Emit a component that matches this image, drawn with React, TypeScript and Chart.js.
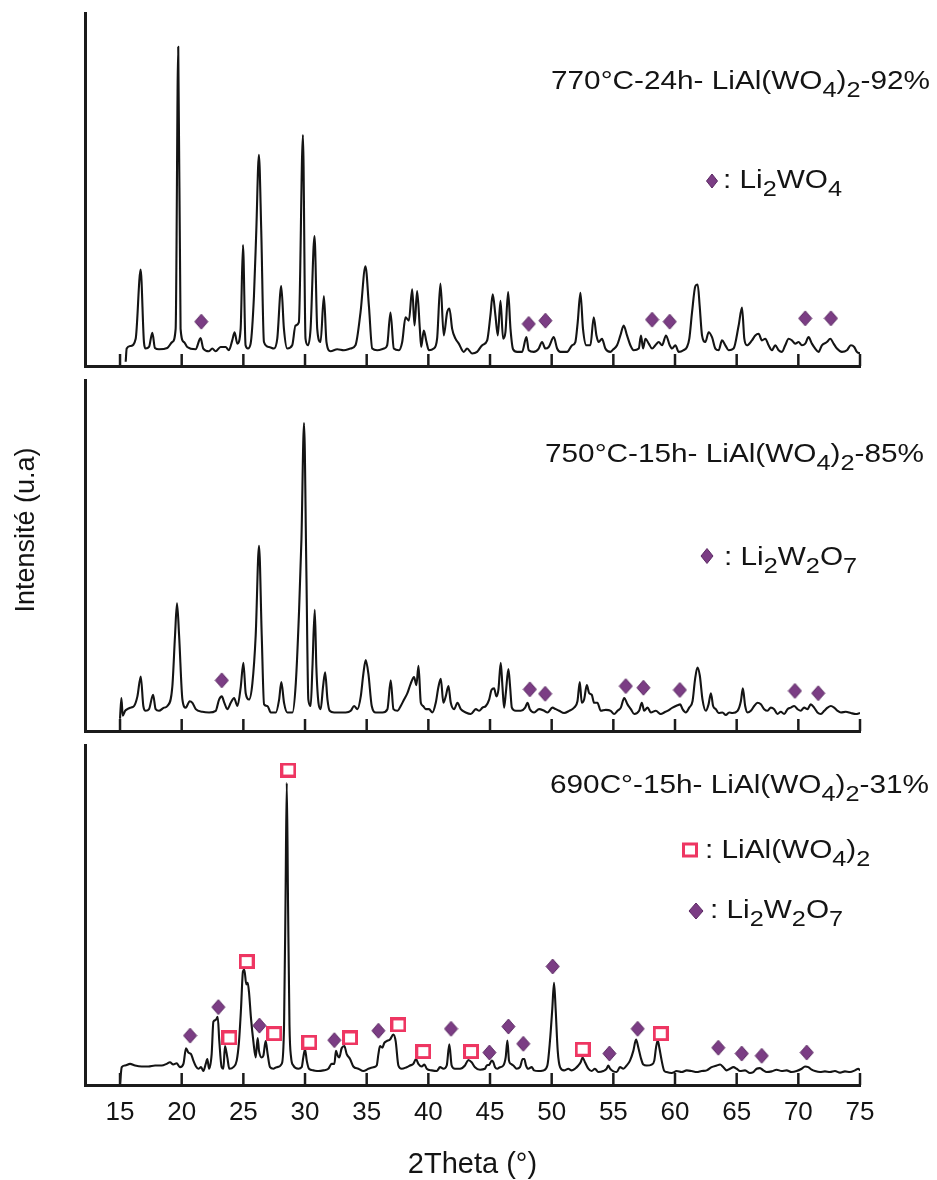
import React, { useEffect, useRef } from 'react';
import { Chart, registerables } from 'chart.js';

Chart.register(...registerables);

const FONT = '"Liberation Sans", Arial, Helvetica, sans-serif';
const INK = '#141414';
const AXIS_INK = '#1b1b1b';
const PURPLE = '#7b3d84';
const PURPLE_EDGE = '#5a2862';
const PINK = '#ee3662';

const X_TICKS = [15, 20, 25, 30, 35, 40, 45, 50, 55, 60, 65, 70, 75];
const X_MIN = 12.16;
const X_MAX = 75;

// ---- 770°C-24h pattern ----
const TOP_2THETA = [
  15.46, 15.54, 15.86, 16.27, 16.67, 16.94, 17.08, 17.35, 17.62, 17.83,
  18.16, 18.83, 19.24, 19.51, 19.72, 19.91, 20.18, 20.45, 21.13, 21.53,
  21.75, 22.21, 22.48, 22.75, 23.15, 23.56, 23.83, 24.10, 24.29, 24.51,
  24.78, 24.97, 25.18, 25.37, 25.59, 25.86, 26.05, 26.26, 26.45, 26.67,
  27.07, 27.48, 27.75, 28.07, 28.29, 28.56, 28.96, 29.23, 29.50, 29.83,
  30.04, 30.23, 30.45, 30.77, 30.99, 31.26, 31.53, 31.74, 32.07, 32.61,
  33.15, 33.69, 34.09, 34.50, 34.90, 35.18, 35.45, 35.85, 36.39, 36.66,
  36.93, 37.20, 37.61, 37.88, 38.15, 38.42, 38.69, 38.88, 39.09, 39.31,
  39.42, 39.63, 39.85, 40.04, 40.44, 40.71, 40.98, 41.25, 41.52, 41.71,
  41.93, 42.20, 42.47, 42.87, 43.14, 43.55, 43.95,
  44.36, 44.77, 45.03, 45.22, 45.44, 45.63, 45.85, 46.06, 46.25, 46.47,
  46.66, 46.87, 47.20, 47.60, 47.95, 48.14, 48.55, 48.95, 49.22, 49.49,
  49.76, 50.17, 50.44, 50.71, 51.25, 51.65, 51.92, 52.11, 52.33, 52.54,
  52.81, 53.14, 53.41, 53.63, 53.81, 54.08, 54.35, 54.76, 54.98, 55.30,
  55.57, 55.84, 56.11, 56.38, 56.65, 57.06, 57.24, 57.41, 57.60, 57.87,
  58.14, 58.41, 58.68, 58.95, 59.27, 59.57, 59.76, 60.03, 60.30, 60.70,
  60.97, 61.16, 61.38, 61.65, 61.84, 62.00, 62.19, 62.46, 62.73, 63.00,
  63.27, 63.54, 63.81, 64.08, 64.35, 64.75, 65.16, 65.43, 65.62, 65.83,
  66.24, 66.51, 66.78, 67.05, 67.32, 67.59, 67.86, 68.13, 68.40, 68.67,
  68.94, 69.21, 69.48, 69.75, 70.02, 70.29, 70.56, 70.83, 71.10, 71.37,
  71.64, 71.91, 72.32, 72.59, 72.86, 73.13, 73.53, 73.94, 74.26, 74.53,
  74.75, 75.0,
];
const TOP_INTENSITY = [
  4.3, 17.7, 20.3, 27.7, 97.7, 24.3, 17.7, 19.3, 33.7, 18.3,
  17, 18.3, 24.3, 37.7, 323.7, 37.7, 24.3, 19.3, 17, 28.3,
  17.7, 15, 17.7, 15, 19.3, 19.3, 16, 26, 34.3, 22.7,
  37.7, 122.7, 21, 17.7, 22.7, 71, 137.7, 214.3, 137.7, 24.3,
  19.3, 17.7, 27.7, 81, 37.7, 17.7, 21, 41, 44.3, 234.3,
  27.7, 21, 37.7, 131.7, 37.7, 24.3, 71, 24.3, 15, 17,
  16, 17.7, 21, 54.3, 101, 61, 17.7, 16, 17.7, 21,
  54.3, 17.7, 16, 24.3, 49.3, 46, 77.7, 41, 76, 37.7,
  19.3, 36, 24.3, 16, 17.7, 27.7, 83.7, 31, 54.3, 58.3,
  37.7, 27.7, 22.7, 14.3, 17.7, 12.7, 14.3,
  21, 26, 51, 72.7, 51, 31, 66, 27.7, 34.3, 75,
  37.7, 17, 14.3, 14.3, 29.3, 16, 14.3, 17.7, 24.3, 17.7,
  19.3, 29.3, 17.7, 14.3, 14.3, 21, 24.3, 44.3, 74.3, 37.7,
  21, 21, 49.3, 31, 24.3, 27.7, 17.7, 14.3, 16.7, 21,
  31, 41, 31, 21, 16, 17.7, 31, 17.7, 27.7, 22.7,
  17.7, 21, 24.3, 21, 31, 21, 17.7, 21, 14.3, 16,
  19.3, 27.7, 54.3, 81, 82.7, 61, 31, 24.3, 34.3, 29.3,
  17.7, 16, 26, 21, 16, 17.7, 41, 59.3, 27.7, 21,
  26, 31, 32.7, 26, 27.7, 21, 16, 21, 16, 14.3,
  21, 27.7, 26, 22.7, 24.3, 21, 22.7, 29.3, 22.7, 17.7,
  14.3, 21, 24.3, 27.7, 22.7, 17.7, 14.3, 16, 21, 19.3,
  14.3, 12.7,
];
const TOP_LI2WO4_2THETA = [21.59, 48.14, 49.49, 58.14, 59.57, 70.56, 72.64];
const TOP_LI2WO4_Y = [45, 42.7, 46, 47, 45, 48.3, 48.3];

// ---- 750°C-15h pattern ----
const MID_2THETA = [
  15.0, 15.11, 15.22, 15.41, 15.59, 15.87, 16.14, 16.41, 16.68, 16.89,
  17.08, 17.35, 17.68, 17.89, 18.16, 18.57, 18.84, 19.24, 19.46, 19.62,
  19.79, 20.06, 20.33, 20.65, 20.87, 21.14, 21.68, 22.22, 22.76, 23.03,
  23.25, 23.46, 23.70, 23.98, 24.25, 24.52, 24.79, 25.00, 25.19, 25.46,
  25.73, 26.00, 26.27, 26.49, 26.68, 26.95, 27.22, 27.63, 27.90, 28.08,
  28.30, 28.57, 28.98, 29.25, 29.52, 29.71, 29.92, 30.11, 30.27, 30.46,
  30.60, 30.79, 30.92, 31.09, 31.27, 31.46, 31.63, 31.82, 32.00, 32.36,
  32.76, 33.30, 33.71, 33.98, 34.25, 34.52, 34.73, 34.92, 35.14, 35.41,
  35.74, 36.28, 36.68, 36.95, 37.17, 37.49, 37.76, 38.03, 38.30, 38.57,
  38.84, 39.03, 39.20, 39.39, 39.57, 39.79, 40.06, 40.33, 40.60, 40.82,
  41.01, 41.22, 41.41, 41.63, 41.82, 42.09, 42.36, 42.63, 43.03, 43.44,
  43.85, 44.12,
  44.39, 44.66, 44.93, 45.12, 45.33, 45.52, 45.68, 45.87, 46.01, 46.14,
  46.28, 46.49, 46.63, 46.77, 47.09, 47.50, 47.85, 48.04, 48.23, 48.58,
  48.98, 49.39, 49.66, 50.06, 50.33, 50.60, 51.01, 51.42, 51.82, 52.09,
  52.28, 52.44, 52.63, 52.85, 53.04, 53.25, 53.44, 53.71, 53.98, 54.39,
  54.79, 55.06, 55.34, 55.61, 55.88, 56.15, 56.42, 56.69, 57.09, 57.31,
  57.50, 57.77, 58.04, 58.44, 58.85, 59.12, 59.39, 59.80, 60.20, 60.42,
  60.61, 60.88, 61.15, 61.42, 61.63, 61.82, 62.01, 62.23, 62.50, 62.72,
  62.91, 63.09, 63.31, 63.53, 63.85, 64.12, 64.39, 64.66, 65.07, 65.34,
  65.50, 65.69, 65.88, 66.15, 66.42, 66.69, 66.96, 67.23, 67.50, 67.77,
  68.04, 68.31, 68.58, 68.85, 69.12, 69.39, 69.66, 69.93, 70.20, 70.47,
  70.74, 71.01, 71.28, 71.55, 71.83, 72.10, 72.37, 72.64, 72.91, 73.18,
  73.45, 73.85, 74.26, 74.66, 75.0,
];
const MID_INTENSITY = [
  12.7, 34.3, 16, 21, 22.7, 24.3, 26, 36, 56.7, 26,
  21, 22.7, 37.7, 22.7, 21, 24.3, 26, 46, 99.3, 132.7,
  99.3, 32.7, 24.3, 31, 29.3, 22.7, 20, 19.3, 21, 32.7,
  36, 29.3, 22.7, 29.3, 34.3, 26, 46, 71, 39.3, 32.7,
  49.3, 99.3, 192.7, 99.3, 27.7, 26, 19.3, 19.3, 32.7, 51,
  29.3, 19.3, 19.3, 49.3, 126, 199.3, 320.3, 166, 32.7, 26,
  66, 126, 66, 29.3, 22.7, 46, 61, 32.7, 21, 19.3,
  19.3, 19.3, 21, 26, 22.7, 36, 59.3, 73.7, 59.3, 26,
  19.3, 19.3, 22.7, 52.7, 22.7, 21, 26, 32.7, 39.3, 49.3,
  56, 47.7, 67.7, 29.3, 26, 22.7, 22.7, 19.3, 29.3, 46,
  54.3, 29.3, 36, 46.7, 29.3, 22.7, 29.3, 22.7, 19.3, 17.7,
  22.7, 21,
  24.3, 26, 32.7, 42.7, 44.3, 36, 42.7, 71, 46, 24.3,
  39.3, 64.3, 46, 24.3, 21, 21, 24.3, 29.3, 22.7, 19.3,
  22.7, 21, 19.3, 24.3, 22.7, 21, 18.7, 21, 24.3, 31,
  51, 29.3, 32.7, 47.7, 39.3, 37.7, 29.3, 29.3, 21, 22,
  21, 17.7, 21, 24.3, 34.3, 27.7, 22.7, 17.7, 21, 29.3,
  21, 24.3, 19.3, 21, 17.7, 19.3, 21, 24.3, 26.7, 27.7,
  22.7, 19.3, 24.3, 31, 54.3, 66, 57.7, 32.7, 21, 27.7,
  39.3, 26, 22.7, 18.7, 19.3, 16.7, 19.3, 18.7, 21, 31,
  44.3, 26, 19.3, 21, 26, 29.3, 27.7, 22.7, 21, 24.3,
  22.7, 17.7, 20, 17.7, 22.7, 24.3, 26, 22.7, 21, 24.3,
  22.7, 27.7, 24.3, 19.3, 17.7, 21, 24.3, 26, 24.3, 21,
  19.3, 20, 18.7, 17.7, 18.7,
];
const MID_LI2W2O7_2THETA = [23.25, 48.23, 49.47, 56.01, 57.44, 60.39, 69.72, 71.61];
const MID_LI2W2O7_Y = [52.7, 43.3, 38.7, 46.7, 45, 42.7, 41.7, 39.3];

// ---- 690°C-15h pattern ----
const BOT_2THETA = [
  15.00, 15.14, 15.41, 15.81, 16.22, 16.76, 17.30, 17.84, 18.38, 18.78,
  19.05, 19.32, 19.59, 19.86, 20.14, 20.35, 20.54, 20.76, 20.95, 21.16,
  21.35, 21.57, 21.76, 21.95, 22.08, 22.22, 22.43, 22.57, 22.76, 22.92,
  23.05, 23.24, 23.38, 23.51, 23.70, 23.86, 24.19, 24.46, 24.65, 24.81,
  24.97, 25.08, 25.24, 25.35, 25.46, 25.62, 25.81, 26.00, 26.16, 26.27,
  26.49, 26.62, 26.81, 26.97, 27.16, 27.43, 27.70, 28.11, 28.30, 28.42,
  28.52, 28.62, 28.74, 28.87, 29.05, 29.46, 29.73, 29.86, 30.00, 30.14,
  30.32, 30.68, 31.08, 31.49, 31.89, 32.16, 32.38, 32.51, 32.65, 32.78,
  32.97, 33.19, 33.38, 33.65, 33.92, 34.32, 34.73, 35.14, 35.54, 35.81,
  35.95, 36.08, 36.27, 36.43, 36.62, 36.89, 37.16, 37.35, 37.57, 37.84,
  38.24, 38.51, 38.78, 39.00, 39.19, 39.46, 39.68, 39.87, 40.27, 40.68,
  40.95, 41.22, 41.49, 41.70, 41.89, 42.16, 42.57, 42.97, 43.24, 43.51,
  43.78, 44.19, 44.59,
  44.73, 44.95, 45.14, 45.27, 45.41, 45.59, 45.81, 46.08, 46.27, 46.41,
  46.54, 46.68, 46.89, 47.16, 47.43, 47.65, 47.78, 47.92, 48.11, 48.38,
  48.57, 48.92, 49.33, 49.65, 49.86, 50.05, 50.19, 50.32, 50.49, 50.68,
  51.00, 51.35, 51.62, 51.89, 52.16, 52.35, 52.51, 52.70, 52.97, 53.24,
  53.51, 53.78, 54.19, 54.46, 54.59, 54.73, 55.00, 55.27, 55.54, 55.81,
  56.08, 56.35, 56.62, 56.84, 57.03, 57.22, 57.43, 57.70, 58.11, 58.32,
  58.46, 58.60, 58.73, 58.92, 59.11, 59.32, 59.73, 60.14, 60.54, 60.95,
  61.35, 61.76, 62.16, 62.57, 62.97, 63.38, 63.65, 63.92, 64.19, 64.46,
  64.73, 65.00, 65.27, 65.68, 66.08, 66.35, 66.62, 66.89, 67.16, 67.43,
  67.84, 68.24, 68.65, 69.05, 69.46, 69.86, 70.27, 70.54, 70.81, 71.08,
  71.35, 71.76, 72.16, 72.57, 72.97, 73.38, 73.78, 74.19, 74.59, 74.86,
  75.00,
];
const BOT_INTENSITY = [
  1.7, 18.3, 20, 21.7, 20, 19, 19, 20, 20, 21.7,
  23.3, 21, 22.3, 18.3, 21.7, 37.7, 33.3, 31.7, 25, 19,
  16.7, 18.3, 14.3, 21.7, 26.7, 16.7, 31.7, 65, 66.7, 70,
  45, 18.3, 16.7, 40, 28.3, 16.7, 18.3, 25, 45, 78.3,
  116.7, 118.3, 103.3, 105, 95, 68.3, 45, 28.3, 48.3, 35,
  28.3, 30, 45, 31.7, 18.3, 16.7, 18.3, 21.7, 61.7, 190,
  310, 190, 61.7, 28.3, 20, 16.7, 18.3, 28.3, 36.7, 25,
  16.7, 15, 14.3, 15, 16.7, 21.7, 21.7, 35, 30, 28.3,
  37.7, 40, 31.7, 26.7, 19, 16.7, 14.3, 16.7, 18.3, 20,
  31.7, 40, 38.3, 43.3, 45, 46.7, 51.7, 45, 20, 16.7,
  18.3, 20, 21.7, 26.7, 21.7, 19, 21, 16.7, 15, 14.3,
  18.3, 16.7, 20, 41.7, 20, 16.7, 16.7, 20, 25.7, 23.3,
  18.3, 15.7, 16.7,
  20, 21, 25, 23.3, 18.3, 16.7, 18.3, 20, 28.3, 45.7,
  25, 21.7, 20, 16.7, 18.3, 26.7, 26.7, 20, 16.7, 18.3,
  15, 14.3, 15, 20, 45, 78.3, 105, 78.3, 35, 18.3,
  15, 16.7, 15, 16.7, 20, 23.3, 28.3, 23.3, 16.7, 14.3,
  16.7, 13.3, 14.3, 16.7, 20, 16.7, 14, 13.3, 18.3, 16.7,
  20, 25, 35, 46.7, 38.3, 28.3, 21, 20, 21, 25,
  38.3, 46, 38.3, 25, 15, 13.3, 12.3, 14.3, 13.3, 15,
  14.3, 13.3, 14.3, 15, 18.3, 20, 21, 18.3, 15, 16.7,
  18.3, 16.7, 14.3, 15, 12.3, 13.3, 16.7, 17.3, 15, 13.3,
  14, 15.7, 14.3, 15, 13.3, 14.3, 16.7, 19, 18.3, 15.7,
  14.3, 13.3, 14, 13.3, 14.3, 12.7, 14, 13.3, 15, 16.7,
  15,
];
const BOT_LI2W2O7_2THETA = [20.68, 22.97, 26.30, 32.38, 35.95, 41.84, 44.95, 46.49, 47.70, 50.08, 54.68, 56.97, 63.51, 65.41, 67.03, 70.68];
const BOT_LI2W2O7_Y = [50.7, 80, 61, 46, 55.7, 57.7, 33.3, 60, 42.3, 121.7, 32.3, 57.7, 38.3, 32.3, 30, 33.3];
const BOT_LIAL_2THETA = [23.87, 25.27, 27.51, 28.65, 30.35, 33.65, 37.57, 39.59, 43.46, 52.51, 58.84];
const BOT_LIAL_Y = [48.3, 126.7, 52.7, 323.3, 44, 48.3, 61.7, 34.3, 34.3, 36.7, 52.7];

// ---- text ----
type Seg = { t: string; sub?: boolean };
const TITLE_770: Seg[] = [{ t: '770°C-24h- LiAl(WO' }, { t: '4', sub: true }, { t: ')' }, { t: '2', sub: true }, { t: '-92%' }];
const TITLE_750: Seg[] = [{ t: '750°C-15h- LiAl(WO' }, { t: '4', sub: true }, { t: ')' }, { t: '2', sub: true }, { t: '-85%' }];
const TITLE_690: Seg[] = [{ t: '690C°-15h- LiAl(WO' }, { t: '4', sub: true }, { t: ')' }, { t: '2', sub: true }, { t: '-31%' }];
const KEY_LI2WO4: Seg[] = [{ t: ': Li' }, { t: '2', sub: true }, { t: 'WO' }, { t: '4', sub: true }];
const KEY_LI2W2O7: Seg[] = [{ t: ': Li' }, { t: '2', sub: true }, { t: 'W' }, { t: '2', sub: true }, { t: 'O' }, { t: '7', sub: true }];
const KEY_LIAL: Seg[] = [{ t: ': LiAl(WO' }, { t: '4', sub: true }, { t: ')' }, { t: '2', sub: true }];
const X_TITLE = '2Theta (°)';
const Y_TITLE = 'Intensité (u.a)';

type Note = { x: number; y: number; segs: Seg[] };
type KeyMark = { x: number; y: number; shape: 'diamond' | 'square'; w: number; h: number };
type MarkerSet = { label: string; xs: number[]; ys: number[]; shape: 'diamond' | 'square' };
type Panel = {
  top: number; height: number; padTop: number; band: number; yMax: number; isBottom: boolean;
  xs: number[]; ys: number[]; markers: MarkerSet[]; notes: Note[]; keys: KeyMark[]; yTitle: boolean;
};

const PANELS: Panel[] = [
  {
    top: 0, height: 375, padTop: 13, band: 4, yMax: 358, isBottom: false, yTitle: false,
    xs: TOP_2THETA, ys: TOP_INTENSITY,
    markers: [{ label: 'Li2WO4', xs: TOP_LI2WO4_2THETA, ys: TOP_LI2WO4_Y, shape: 'diamond' }],
    notes: [{ x: 551, y: 89, segs: TITLE_770 }, { x: 723, y: 188, segs: KEY_LI2WO4 }],
    keys: [{ x: 712, y: 181, shape: 'diamond', w: 11, h: 14 }],
  },
  {
    top: 371, height: 369, padTop: 0, band: 4, yMax: 365, isBottom: false, yTitle: true,
    xs: MID_2THETA, ys: MID_INTENSITY,
    markers: [{ label: 'Li2W2O7', xs: MID_LI2W2O7_2THETA, ys: MID_LI2W2O7_Y, shape: 'diamond' }],
    notes: [{ x: 545, y: 462, segs: TITLE_750 }, { x: 724, y: 565, segs: KEY_LI2W2O7 }],
    keys: [{ x: 707, y: 556, shape: 'diamond', w: 12, h: 15 }],
  },
  {
    top: 736, height: 444, padTop: 0, band: 95, yMax: 349, isBottom: true, yTitle: false,
    xs: BOT_2THETA, ys: BOT_INTENSITY,
    markers: [
      { label: 'LiAl(WO4)2', xs: BOT_LIAL_2THETA, ys: BOT_LIAL_Y, shape: 'square' },
      { label: 'Li2W2O7', xs: BOT_LI2W2O7_2THETA, ys: BOT_LI2W2O7_Y, shape: 'diamond' },
    ],
    notes: [
      { x: 550, y: 793, segs: TITLE_690 },
      { x: 705, y: 858, segs: KEY_LIAL },
      { x: 710, y: 918, segs: KEY_LI2W2O7 },
    ],
    keys: [
      { x: 690, y: 850, shape: 'square', w: 16, h: 15 },
      { x: 696, y: 911, shape: 'diamond', w: 14, h: 16 },
    ],
  },
];

const NOTE_SIZE = 25;
const NOTE_STRETCH = 1.19;

function pathDiamond(g: CanvasRenderingContext2D, cx: number, cy: number, w: number, h: number) {
  g.beginPath();
  g.moveTo(cx, cy - h / 2);
  g.lineTo(cx + w / 2, cy);
  g.lineTo(cx, cy + h / 2);
  g.lineTo(cx - w / 2, cy);
  g.closePath();
  g.fillStyle = PURPLE;
  g.fill();
  g.lineWidth = 1;
  g.strokeStyle = PURPLE_EDGE;
  g.stroke();
}

function pathSquare(g: CanvasRenderingContext2D, cx: number, cy: number, w: number, h: number) {
  g.lineWidth = 3;
  g.strokeStyle = PINK;
  g.strokeRect(cx - w / 2 + 1.5, cy - h / 2 + 1.5, w - 3, h - 3);
}

function markerImage(shape: 'diamond' | 'square') {
  const c = document.createElement('canvas');
  if (shape === 'diamond') {
    c.width = 15; c.height = 17;
    pathDiamond(c.getContext('2d')!, 7.5, 8.5, 13, 15);
  } else {
    c.width = 16; c.height = 15;
    pathSquare(c.getContext('2d')!, 8, 7.5, 16, 15);
  }
  return c;
}

function drawRich(g: CanvasRenderingContext2D, x: number, y: number, segs: Seg[]) {
  g.save();
  g.translate(x, y);
  g.scale(NOTE_STRETCH, 1);
  g.fillStyle = INK;
  g.textBaseline = 'alphabetic';
  g.textAlign = 'left';
  let cx = 0;
  for (const s of segs) {
    const size = s.sub ? NOTE_SIZE * 0.85 : NOTE_SIZE;
    g.font = `${size}px ${FONT}`;
    g.fillText(s.t, cx, s.sub ? NOTE_SIZE * 0.32 : 0);
    cx += g.measureText(s.t).width;
  }
  g.restore();
}

function decorPlugin(p: Panel) {
  return {
    id: 'panelDecor',
    afterDraw(chart: any) {
      const g: CanvasRenderingContext2D = chart.ctx;
      const xs = chart.scales.x;
      const bottom = chart.chartArea.bottom;
      g.save();
      g.strokeStyle = AXIS_INK;
      g.lineWidth = 2.5;
      for (const v of X_TICKS) {
        const px = xs.getPixelForValue(v);
        g.beginPath();
        g.moveTo(px, bottom);
        g.lineTo(px, bottom - 12);
        g.stroke();
      }
      for (const n of p.notes) drawRich(g, n.x, n.y - p.top, n.segs);
      for (const k of p.keys) {
        if (k.shape === 'diamond') pathDiamond(g, k.x, k.y - p.top, k.w, k.h);
        else pathSquare(g, k.x, k.y - p.top, k.w, k.h);
      }
      if (p.yTitle) {
        g.translate(34, 530 - p.top);
        g.rotate(-Math.PI / 2);
        g.font = `27px ${FONT}`;
        g.fillStyle = INK;
        g.textAlign = 'center';
        g.textBaseline = 'alphabetic';
        g.fillText(Y_TITLE, 0, 0);
      }
      g.restore();
    },
  };
}

function buildConfig(p: Panel): any {
  const datasets: any[] = p.markers.map((m) => ({
    label: m.label,
    data: m.xs.map((x, i) => ({ x, y: m.ys[i] })),
    showLine: false,
    pointStyle: markerImage(m.shape),
    pointRadius: 8,
    pointHoverRadius: 8,
    borderColor: 'transparent',
    backgroundColor: 'transparent',
  }));
  datasets.push({
    label: 'pattern',
    data: p.xs.map((x, i) => ({ x, y: p.ys[i] })),
    borderColor: INK,
    borderWidth: 2.1,
    pointRadius: 0,
    fill: false,
    cubicInterpolationMode: 'monotone',
    borderJoinStyle: 'round',
  });
  return {
    type: 'line',
    data: { datasets },
    options: {
      animation: false,
      responsive: false,
      maintainAspectRatio: false,
      events: [],
      layout: { padding: { top: p.padTop, bottom: 0, left: 0, right: 77 } },
      plugins: { legend: { display: false }, tooltip: { enabled: false }, title: { display: false } },
      scales: {
        x: {
          type: 'linear',
          position: 'bottom',
          min: X_MIN,
          max: X_MAX,
          afterBuildTicks: (s: any) => { s.ticks = X_TICKS.map((v) => ({ value: v })); },
          afterFit: (s: any) => { s.height = p.band; },
          grid: { display: false, drawTicks: false },
          border: { display: true, color: AXIS_INK, width: 3 },
          ticks: {
            display: p.isBottom,
            autoSkip: false,
            maxRotation: 0,
            padding: 12,
            color: INK,
            font: { family: FONT, size: 26 },
            callback: (v: any) => String(v),
          },
          title: {
            display: p.isBottom,
            text: X_TITLE,
            color: INK,
            font: { family: FONT, size: 29, lineHeight: 1 },
            padding: { top: 0, bottom: 1 },
          },
        },
        y: {
          type: 'linear',
          position: 'left',
          min: 0,
          max: p.yMax,
          afterFit: (s: any) => { s.width = 85; },
          grid: { display: false, drawTicks: false },
          border: { display: true, color: AXIS_INK, width: 3 },
          ticks: { display: false },
        },
      },
    },
    plugins: [decorPlugin(p)],
  };
}

export default function App() {
  const r0 = useRef<HTMLCanvasElement>(null);
  const r1 = useRef<HTMLCanvasElement>(null);
  const r2 = useRef<HTMLCanvasElement>(null);
  const refs = [r0, r1, r2];

  useEffect(() => {
    const charts = PANELS.map((p, i) => new Chart(refs[i].current as HTMLCanvasElement, buildConfig(p)));
    return () => charts.forEach((c) => c.destroy());
  }, []);

  return (
    <div style={{ position: 'absolute', left: 0, top: 0, width: 937, height: 1180, background: '#fff', overflow: 'hidden' }}>
      {PANELS.map((p, i) => (
        <canvas
          key={i}
          ref={refs[i]}
          width={937}
          height={p.height}
          style={{ position: 'absolute', left: 0, top: p.top, width: 937, height: p.height, display: 'block' }}
        />
      ))}
    </div>
  );
}
